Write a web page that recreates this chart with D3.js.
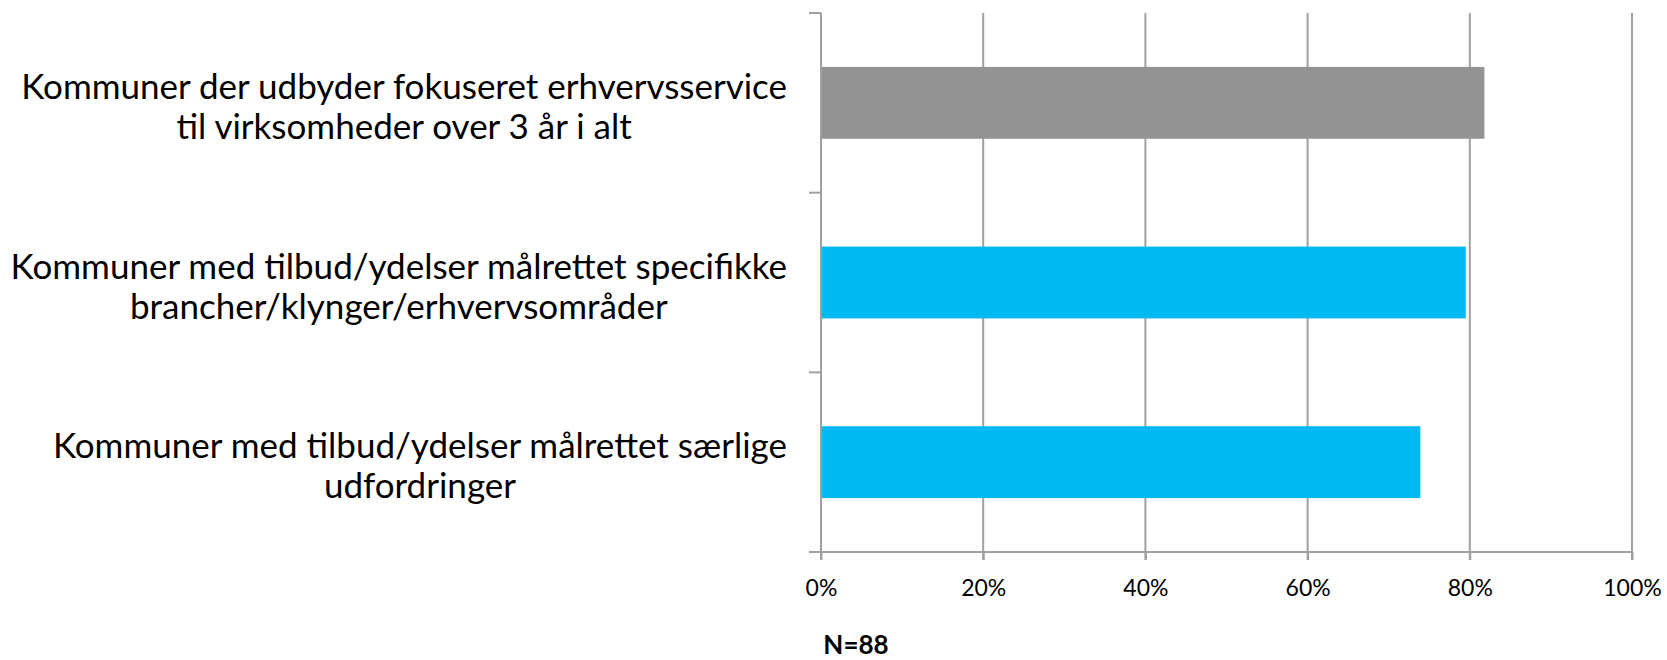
<!DOCTYPE html>
<html lang="da">
<head>
    <meta charset="UTF-8">
    <title>Erhvervsservice</title>
    <script src="https://d3js.org/d3.v7.min.js"></script>
    <style>
        body { margin: 0; background: #fff; }
        text { font-family: Lato, "Open Sans", sans-serif; fill: #000; }
    </style>
</head>
<body>
    <div id="chart"></div>
    <script>
        // Data (N=88)
        const categories = [
            ["Kommuner der udbyder fokuseret erhvervsservice", "til virksomheder over 3 år i alt"],
            ["Kommuner med tilbud/ydelser målrettet specifikke", "brancher/klynger/erhvervsområder"],
            ["Kommuner med tilbud/ydelser målrettet særlige", "udfordringer"]
        ];
        const values = [0.818, 0.795, 0.739];
        const barColors = ["#939393", "#00b9f2", "#00b9f2"];
        const xTicks = [0, 0.2, 0.4, 0.6, 0.8, 1];
        const note = "N=88";

        const width = 1667, height = 660;
        const margin = { top: 13, left: 821, right: 35, bottom: 108 };
        const innerW = width - margin.left - margin.right;
        const innerH = height - margin.top - margin.bottom;

        const svg = d3.select("#chart").append("svg")
            .attr("width", width)
            .attr("height", height);

        const g = svg.append("g")
            .attr("transform", `translate(${margin.left},${margin.top})`);

        const x = d3.scaleLinear().domain([0, 1]).range([0, innerW]);
        const y = d3.scaleBand()
            .domain(d3.range(categories.length))
            .range([0, innerH])
            .paddingInner(0.6)
            .paddingOuter(0.3);

        const lineColor = "#a0a0a0";

        // gridlines
        g.selectAll("line.grid")
            .data(xTicks.slice(1))
            .join("line")
            .attr("class", "grid")
            .attr("x1", d => x(d)).attr("x2", d => x(d))
            .attr("y1", 0).attr("y2", innerH + 8)
            .attr("stroke", lineColor)
            .attr("stroke-width", 2);

        // bars
        g.selectAll("rect")
            .data(values)
            .join("rect")
            .attr("x", 0)
            .attr("y", (d, i) => y(i))
            .attr("width", d => x(d))
            .attr("height", y.bandwidth())
            .attr("fill", (d, i) => barColors[i]);

        // x axis
        const xAxis = g.append("g")
            .attr("transform", `translate(0,${innerH})`)
            .call(d3.axisBottom(x).tickValues(xTicks).tickFormat(d3.format(".0%"))
                .tickSize(8).tickPadding(20));
        xAxis.select(".domain").attr("stroke", lineColor).attr("stroke-width", 2)
            .attr("d", `M0,0H${innerW}`);
        xAxis.selectAll(".tick line").attr("stroke", lineColor).attr("stroke-width", 2);
        xAxis.selectAll(".tick text")
            .style("font-size", "23px")
            .style("font-family", "Lato, sans-serif")
            .attr("fill", "#000");

        // y axis line + category separators
        const step = y.step();
        const sepY = d3.range(categories.length + 1).map(i => i * step);
        g.append("line")
            .attr("x1", 0).attr("x2", 0)
            .attr("y1", 0).attr("y2", innerH + 8)
            .attr("stroke", lineColor).attr("stroke-width", 2);
        g.selectAll("line.ytick")
            .data(sepY)
            .join("line")
            .attr("class", "ytick")
            .attr("x1", -12).attr("x2", 0)
            .attr("y1", d => d).attr("y2", d => d)
            .attr("stroke", lineColor).attr("stroke-width", 2);

        // category labels, right block with centered lines
        const labelRight = 787 - margin.left;
        const labelSize = 35;
        categories.forEach((lines, i) => {
            const c = y(i) + y.bandwidth() / 2;
            const grp = g.append("g");
            const texts = grp.selectAll("text")
                .data(lines)
                .join("text")
                .attr("y", (d, j) => c - 4 + j * 40)
                .attr("text-anchor", "middle")
                .style("font-size", labelSize + "px")
                .text(d => d);
            const maxW = d3.max(texts.nodes(), n => n.getComputedTextLength());
            texts.attr("x", labelRight - maxW / 2);
        });

        // N note
        svg.append("text")
            .attr("x", 856)
            .attr("y", 654)
            .attr("text-anchor", "middle")
            .style("font-size", "26px")
            .style("font-weight", "bold")
            .text(note);
    </script>
</body>
</html>
